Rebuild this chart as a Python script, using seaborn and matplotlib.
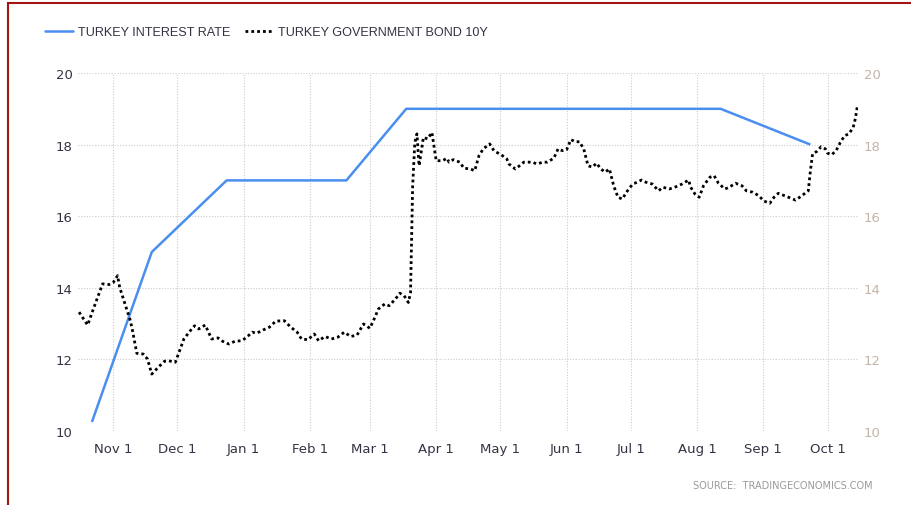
import matplotlib
matplotlib.use("Agg")
import matplotlib.pyplot as plt
from matplotlib.patches import Rectangle
from matplotlib.lines import Line2D
import seaborn as sns
import pandas as pd

# ---------------- data ----------------
rate_dates = ["2020-10-22", "2020-11-19", "2020-12-24", "2021-02-18",
              "2021-03-18", "2021-08-12", "2021-09-23"]
rate_values = [10.25, 15.0, 17.0, 17.0, 19.0, 19.0, 18.0]

bond_dates = [
    "2020-10-16", "2020-10-20", "2020-10-23", "2020-10-27", "2020-10-30",
    "2020-11-01", "2020-11-03", "2020-11-04", "2020-11-06", "2020-11-09",
    "2020-11-10", "2020-11-12", "2020-11-15", "2020-11-17", "2020-11-19",
    "2020-11-22", "2020-11-25", "2020-11-27", "2020-11-30", "2020-12-02",
    "2020-12-04", "2020-12-07", "2020-12-09", "2020-12-11", "2020-12-14",
    "2020-12-17", "2020-12-20", "2020-12-22", "2020-12-25", "2020-12-28",
    "2020-12-31", "2021-01-02", "2021-01-05", "2021-01-07", "2021-01-10",
    "2021-01-13", "2021-01-16", "2021-01-20", "2021-01-23", "2021-01-26",
    "2021-01-28", "2021-01-31", "2021-02-03", "2021-02-05", "2021-02-08",
    "2021-02-11", "2021-02-14", "2021-02-17", "2021-02-20", "2021-02-23",
    "2021-02-26", "2021-03-01", "2021-03-03", "2021-03-05", "2021-03-08",
    "2021-03-10", "2021-03-13", "2021-03-15", "2021-03-17", "2021-03-19",
    "2021-03-20", "2021-03-21", "2021-03-22", "2021-03-23", "2021-03-24",
    "2021-03-25", "2021-03-26", "2021-03-28", "2021-03-30", "2021-04-01",
    "2021-04-04", "2021-04-06", "2021-04-07", "2021-04-09", "2021-04-12",
    "2021-04-14", "2021-04-17", "2021-04-19", "2021-04-21", "2021-04-23",
    "2021-04-26", "2021-04-28", "2021-05-02", "2021-05-04", "2021-05-05",
    "2021-05-08", "2021-05-10", "2021-05-12", "2021-05-16", "2021-05-18",
    "2021-05-21", "2021-05-23", "2021-05-26", "2021-05-28", "2021-05-30",
    "2021-06-01", "2021-06-03", "2021-06-05", "2021-06-07", "2021-06-09",
    "2021-06-11", "2021-06-13", "2021-06-15", "2021-06-17", "2021-06-19",
    "2021-06-21", "2021-06-23", "2021-06-25", "2021-06-27", "2021-06-30",
    "2021-07-02", "2021-07-04", "2021-07-06", "2021-07-08", "2021-07-11",
    "2021-07-14", "2021-07-16", "2021-07-19", "2021-07-22", "2021-07-25",
    "2021-07-28", "2021-07-29", "2021-07-31", "2021-08-02", "2021-08-04",
    "2021-08-07", "2021-08-09", "2021-08-11", "2021-08-14", "2021-08-16",
    "2021-08-19", "2021-08-22", "2021-08-24", "2021-08-27", "2021-08-30",
    "2021-09-01", "2021-09-04", "2021-09-06", "2021-09-08", "2021-09-11",
    "2021-09-14", "2021-09-16", "2021-09-19", "2021-09-21", "2021-09-22",
    "2021-09-23", "2021-09-24", "2021-09-26", "2021-09-28", "2021-09-30",
    "2021-10-01", "2021-10-03", "2021-10-05", "2021-10-07", "2021-10-09",
    "2021-10-11", "2021-10-13", "2021-10-14", "2021-10-15",
]
bond_values = [
    13.32, 12.96, 13.46, 14.11, 14.09,
    14.15, 14.34, 14.01, 13.64, 13.08,
    12.80, 12.17, 12.15, 12.01, 11.59,
    11.78, 11.95, 11.96, 11.92, 12.24,
    12.57, 12.80, 12.94, 12.85, 12.96,
    12.57, 12.60, 12.51, 12.43, 12.51,
    12.52, 12.60, 12.76, 12.73, 12.82,
    12.90, 13.07, 13.08, 12.90, 12.76,
    12.57, 12.55, 12.71, 12.52, 12.64,
    12.57, 12.62, 12.76, 12.64, 12.68,
    12.99, 12.87, 13.13, 13.41, 13.55,
    13.50, 13.69, 13.85, 13.78, 13.59,
    13.87, 16.85, 18.06, 18.30, 17.41,
    17.79, 18.20, 18.16, 18.34, 17.55,
    17.55, 17.62, 17.51, 17.58, 17.51,
    17.34, 17.32, 17.27, 17.69, 17.88,
    18.02, 17.83, 17.69, 17.60, 17.46,
    17.32, 17.41, 17.51, 17.51, 17.46,
    17.51, 17.51, 17.62, 17.88, 17.83,
    17.86, 18.14, 18.08, 18.08, 17.88,
    17.41, 17.37, 17.48, 17.32, 17.23,
    17.32, 16.85, 16.53, 16.48, 16.76,
    16.90, 16.95, 17.01, 16.95, 16.90,
    16.71, 16.81, 16.76, 16.82, 16.90,
    17.01, 16.81, 16.62, 16.53, 16.85,
    17.09, 17.13, 16.92, 16.76, 16.81,
    16.92, 16.85, 16.71, 16.67, 16.57,
    16.43, 16.36, 16.53, 16.64, 16.57,
    16.50, 16.45, 16.57, 16.67, 16.71,
    17.27, 17.74, 17.81, 17.94, 17.88,
    17.76, 17.72, 17.83, 18.06, 18.25,
    18.30, 18.48, 18.72, 19.09,
]

tick_dates = ["2020-11-01", "2020-12-01", "2021-01-01", "2021-02-01",
              "2021-03-01", "2021-04-01", "2021-05-01", "2021-06-01",
              "2021-07-01", "2021-08-01", "2021-09-01", "2021-10-01"]
tick_labels = ["Nov 1", "Dec 1", "Jan 1", "Feb 1", "Mar 1", "Apr 1",
               "May 1", "Jun 1", "Jul 1", "Aug 1", "Sep 1", "Oct 1"]
y_ticks = [10, 12, 14, 16, 18, 20]

series_names = ["TURKEY INTEREST RATE", "TURKEY GOVERNMENT BOND 10Y"]

# ---------------- frames ----------------
rate_df = pd.DataFrame({"date": pd.to_datetime(rate_dates), "value": rate_values})
bond_df = pd.DataFrame({"date": pd.to_datetime(bond_dates), "value": bond_values})

sns.set_style("white")
plt.rcParams["font.family"] = ["DejaVu Sans"]

W, H = 912, 506
fig = plt.figure(figsize=(W / 100, H / 100), dpi=100)
fig.patch.set_facecolor("white")

ax = fig.add_axes([78 / W, 1 - 432 / H, 780 / W, 358 / H])

blue = "#4a8ef0"
sns.lineplot(data=rate_df, x="date", y="value", ax=ax, color=blue,
             linewidth=1.8, solid_capstyle="butt")
sns.lineplot(data=bond_df, x="date", y="value", ax=ax, color="black",
             linewidth=2.0, linestyle=(0, (1, 1.1)))

ax.set_xlim(pd.Timestamp("2020-10-15 12:00"), pd.Timestamp("2021-10-15 06:00"))
ax.set_ylim(10, 20)
ax.set_xlabel("")
ax.set_ylabel("")

ax.set_xticks(pd.to_datetime(tick_dates))
ax.set_xticklabels(tick_labels)
ax.set_yticks(y_ticks)
ax.set_yticklabels([str(v) for v in y_ticks])

ax.grid(True, color="#cccccc", linestyle=(0, (1, 1.5)), linewidth=0.8)
for s in ax.spines.values():
    s.set_visible(False)
ax.tick_params(axis="x", length=4, width=0.8, color="#cccccc", pad=4,
               labelsize=9.5, labelcolor="#333344")
ax.tick_params(axis="y", length=0, pad=4, labelsize=9.5, labelcolor="#333344")

ax2 = ax.twinx()
ax2.set_ylim(10, 20)
ax2.set_yticks(y_ticks)
ax2.set_yticklabels([str(v) for v in y_ticks])
ax2.tick_params(axis="y", length=0, pad=4, labelsize=9.5, labelcolor="#c2b5a8")
for s in ax2.spines.values():
    s.set_visible(False)
ax2.grid(False)

# legend
handles = [Line2D([], [], color=blue, linewidth=1.8),
           Line2D([], [], color="black", linewidth=2.0, linestyle=(0, (1, 1.1)))]
leg = fig.legend(handles, series_names, loc="center left",
                 bbox_to_anchor=(45 / W, 1 - 33 / H), ncol=2, frameon=False,
                 handlelength=2.2, handletextpad=0.4, columnspacing=1.2,
                 borderpad=0, borderaxespad=0,
                 prop={"family": "Liberation Sans", "size": 9.1})
for t in leg.get_texts():
    t.set_color("#333344")

# source
fig.text(873 / W, 1 - 486 / H, "SOURCE:  TRADINGECONOMICS.COM", ha="right",
         va="center", fontsize=7, color="#9a9a9a")

# dark red frame (left & top visible)
fig.patches.append(Rectangle((8.5 / W, -0.2), 1.5, 1.2 - 3.5 / H,
                             transform=fig.transFigure, fill=False,
                             edgecolor="#a31515", linewidth=1.5))

fig.savefig("out.png", dpi=100, facecolor="white")
